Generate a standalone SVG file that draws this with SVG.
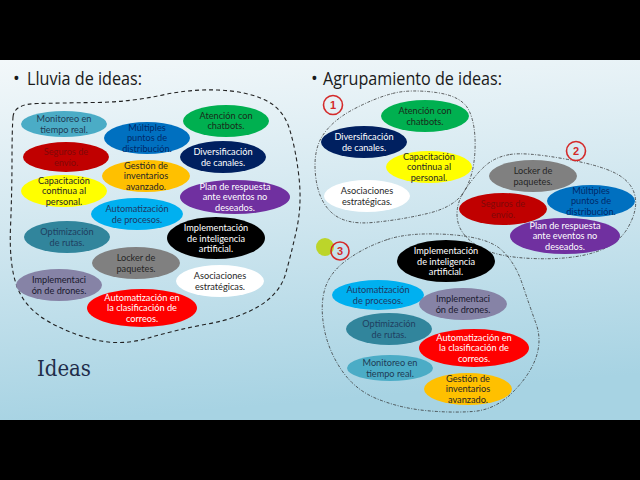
<svg xmlns="http://www.w3.org/2000/svg" width="640" height="480" viewBox="0 0 640 480">
<defs>
<linearGradient id="bg" x1="0" y1="0" x2="0.15" y2="1">
<stop offset="0" stop-color="#f3f8fa"/>
<stop offset="0.5" stop-color="#cfe6ef"/>
<stop offset="1" stop-color="#a7d3e3"/>
</linearGradient>
<style>
.t{font-family:Lato,"Liberation Sans",sans-serif;font-size:9.2px;text-anchor:middle}
.w{fill:#ffffff}
.d{fill:#262626}
.h{font-family:"Open Sans","Liberation Sans",sans-serif;font-size:18px;fill:#1a1a1a}
.dash{fill:none;stroke:#222;stroke-width:1.1;stroke-dasharray:4 3}
.dd{fill:none;stroke:#333;stroke-width:0.8;stroke-dasharray:3 1.5 1 1.5}
.num{fill:none;stroke:#d42a2a;stroke-width:1.6}
.nt{font-family:"Liberation Sans",sans-serif;font-size:11px;font-weight:bold;fill:#d42a2a;text-anchor:middle}
</style>
</defs>
<rect x="0" y="0" width="640" height="480" fill="#000"/>
<rect x="0" y="60" width="640" height="360" fill="url(#bg)"/>

<text x="13" y="85" class="h">•</text>
<text x="27" y="85" class="h" textLength="115" lengthAdjust="spacingAndGlyphs">Lluvia de ideas:</text>
<text x="311" y="85" class="h">•</text>
<text x="323" y="85" class="h" textLength="179" lengthAdjust="spacingAndGlyphs">Agrupamiento de ideas:</text>
<text x="37" y="376" font-family="'DejaVu Serif','Liberation Serif',serif" font-size="22" fill="#1f2d4a" textLength="54" lengthAdjust="spacingAndGlyphs">Ideas</text>

<g id="connectors">
<path class="dash" d="M13,117 Q14,104 37,103.5 Q60,103 95,102.5 Q130,102 160,95.5 Q190,89 217.5,90 Q245,91 264,99.5 Q283,108 289.5,129 Q296,150 299,177.5 Q302,205 296.5,230 Q291,255 285.5,274 Q280,293 260,305.5 Q240,318 207.5,324 Q175,330 148.5,338 Q122,346 96,340 Q70,334 47.5,321 Q25,308 17,286.5 Q9,265 10.5,227.5 Q12,190 12,160 Q12,130 13,117 Z"/>
<path class="dd" d="M392.5,93.5 Q410,89 436,92.5 Q462,96 469,110.5 Q476,125 475,150 Q474,175 464.5,191 Q455,207 427.5,213.5 Q400,220 372.5,222.5 Q345,225 331.5,212.5 Q318,200 315.5,175 Q313,150 323,135 Q333,120 354,109 Q375,98 392.5,93.5 Z"/>
<path class="dd" d="M510,154.5 Q525,152 562.5,158.5 Q600,165 616,173.5 Q632,182 635,196 Q638,210 628,227.5 Q618,245 594,252.5 Q570,260 532.5,258.5 Q495,257 477.5,246 Q460,235 457.5,220 Q455,205 465,190 Q475,175 485,166 Q495,157 510,154.5 Z"/>
<path class="dd" d="M387.5,239.5 Q410,232 448.5,234.5 Q487,237 501,249.5 Q515,262 522.5,284.5 Q530,307 536,323.5 Q542,340 536,357.5 Q530,375 512.5,392.5 Q495,410 472.5,411.5 Q450,413 425,410.5 Q400,408 377.5,399 Q355,390 341.5,370 Q328,350 324,327.5 Q320,305 325,288.5 Q330,272 347.5,259.5 Q365,247 387.5,239.5 Z"/>
</g>

<g id="L-monitoreo"><ellipse cx="64" cy="124" rx="43" ry="13" fill="#4bacc6"/><text class="t" fill="#1f3b55"><tspan x="64" y="122">Monitoreo en</tspan><tspan x="64" y="132.5">tiempo real.</tspan></text></g>
<g id="L-multiples"><ellipse cx="147" cy="138" rx="43" ry="16" fill="#0070c0"/><text class="t" fill="#002a6a"><tspan x="147" y="130.5">Múltiples</tspan><tspan x="147" y="141">puntos de</tspan><tspan x="147" y="151.5">distribución.</tspan></text></g>
<g id="L-atencion"><ellipse cx="226" cy="121" rx="43" ry="16" fill="#00b050"/><text class="t" fill="#1a2a1a"><tspan x="226" y="118.5">Atención con</tspan><tspan x="226" y="129">chatbots.</tspan></text></g>
<g id="L-seguros"><ellipse cx="66" cy="157" rx="43" ry="15" fill="#c00000"/><text class="t" fill="#800808"><tspan x="66" y="155">Seguros de</tspan><tspan x="66" y="165.5">envío.</tspan></text></g>
<g id="L-diversificacion"><ellipse cx="223" cy="157" rx="43" ry="16" fill="#002060"/><text class="t w"><tspan x="223" y="155">Diversificación</tspan><tspan x="223" y="165.5">de canales.</tspan></text></g>
<g id="L-gestion"><ellipse cx="146" cy="176" rx="44" ry="16" fill="#ffc000"/><text class="t d"><tspan x="146" y="168.5">Gestión de</tspan><tspan x="146" y="179">inventarios</tspan><tspan x="146" y="189.5">avanzado.</tspan></text></g>
<g id="L-capacitacion"><ellipse cx="64" cy="191" rx="43" ry="16" fill="#ffff00"/><text class="t d"><tspan x="64" y="183.5">Capacitación</tspan><tspan x="64" y="194">continua al</tspan><tspan x="64" y="204.5">personal.</tspan></text></g>
<g id="L-plan"><ellipse cx="235" cy="197" rx="55" ry="17" fill="#7030a0"/><text class="t w"><tspan x="235" y="189.5">Plan de respuesta</tspan><tspan x="235" y="200">ante eventos no</tspan><tspan x="235" y="210.5">deseados.</tspan></text></g>
<g id="L-automatizacion"><ellipse cx="137" cy="214" rx="46" ry="16" fill="#00b0f0"/><text class="t" fill="#1f3864"><tspan x="137" y="212">Automatización</tspan><tspan x="137" y="222.5">de procesos.</tspan></text></g>
<g id="L-optimizacion"><ellipse cx="67" cy="237" rx="43" ry="16" fill="#31859c"/><text class="t" fill="#1f3f60"><tspan x="67" y="235">Optimización</tspan><tspan x="67" y="245.5">de rutas.</tspan></text></g>
<g id="L-ia"><ellipse cx="216" cy="238" rx="49" ry="21" fill="#000"/><text class="t w"><tspan x="216" y="231">Implementación</tspan><tspan x="216" y="241.5">de inteligencia</tspan><tspan x="216" y="252">artificial.</tspan></text></g>
<g id="L-locker"><ellipse cx="136" cy="263" rx="44" ry="16" fill="#808080"/><text class="t d"><tspan x="136" y="261">Locker de</tspan><tspan x="136" y="271.5">paquetes.</tspan></text></g>
<g id="L-asociaciones"><ellipse cx="220" cy="281" rx="44" ry="16" fill="#ffffff"/><text class="t d"><tspan x="220" y="279">Asociaciones</tspan><tspan x="220" y="289.5">estratégicas.</tspan></text></g>
<g id="L-drones"><ellipse cx="59" cy="285" rx="43" ry="16" fill="#8683a6"/><text class="t" fill="#1a1a2e"><tspan x="59" y="283">Implementaci</tspan><tspan x="59" y="293.5">ón de drones.</tspan></text></g>
<g id="L-correos"><ellipse cx="142" cy="308" rx="55" ry="19" fill="#ff0000"/><text class="t w"><tspan x="142" y="300.5">Automatización en</tspan><tspan x="142" y="311">la clasificación de</tspan><tspan x="142" y="321.5">correos.</tspan></text></g>

<g id="badge1"><circle cx="333" cy="105" r="9.5" class="num"/><text x="333" y="109" class="nt">1</text></g>
<g id="badge2"><circle cx="576" cy="151" r="9.5" class="num"/><text x="576" y="155" class="nt">2</text></g>
<g id="dot"><circle cx="325" cy="247" r="9" fill="#bcd52a"/></g>
<g id="badge3"><circle cx="340" cy="251" r="9" class="num"/><text x="340" y="255" class="nt">3</text></g>

<g id="R-atencion"><ellipse cx="425" cy="116" rx="44" ry="16" fill="#00b050"/><text class="t" fill="#1a2a1a"><tspan x="425" y="114">Atención con</tspan><tspan x="425" y="124.5">chatbots.</tspan></text></g>
<g id="R-diversificacion"><ellipse cx="364" cy="142" rx="43" ry="16" fill="#002060"/><text class="t w"><tspan x="364" y="140">Diversificación</tspan><tspan x="364" y="150.5">de canales.</tspan></text></g>
<g id="R-capacitacion"><ellipse cx="429" cy="167" rx="43" ry="16" fill="#ffff00"/><text class="t d"><tspan x="429" y="159.5">Capacitación</tspan><tspan x="429" y="170">continua al</tspan><tspan x="429" y="180.5">personal.</tspan></text></g>
<g id="R-asociaciones"><ellipse cx="367" cy="196" rx="43" ry="16" fill="#ffffff"/><text class="t d"><tspan x="367" y="194">Asociaciones</tspan><tspan x="367" y="204.5">estratégicas.</tspan></text></g>
<g id="R-locker"><ellipse cx="533" cy="176" rx="44" ry="16" fill="#808080"/><text class="t d"><tspan x="533" y="174">Locker de</tspan><tspan x="533" y="184.5">paquetes.</tspan></text></g>
<g id="R-multiples"><ellipse cx="591" cy="201" rx="44" ry="16" fill="#0070c0"/><text class="t" fill="#002a6a"><tspan x="591" y="193.5">Múltiples</tspan><tspan x="591" y="204">puntos de</tspan><tspan x="591" y="214.5">distribución.</tspan></text></g>
<g id="R-seguros"><ellipse cx="503" cy="209" rx="44" ry="16" fill="#c00000"/><text class="t" fill="#800808"><tspan x="503" y="207">Seguros de</tspan><tspan x="503" y="217.5">envío.</tspan></text></g>
<g id="R-plan"><ellipse cx="565" cy="236" rx="55" ry="18" fill="#7030a0"/><text class="t w"><tspan x="565" y="228.5">Plan de respuesta</tspan><tspan x="565" y="239">ante eventos no</tspan><tspan x="565" y="249.5">deseados.</tspan></text></g>
<g id="R-ia"><ellipse cx="446" cy="261" rx="49" ry="21" fill="#000"/><text class="t w"><tspan x="446" y="254">Implementación</tspan><tspan x="446" y="264.5">de inteligencia</tspan><tspan x="446" y="275">artificial.</tspan></text></g>
<g id="R-automatizacion"><ellipse cx="378" cy="295" rx="46" ry="15" fill="#00b0f0"/><text class="t" fill="#1f3864"><tspan x="378" y="293">Automatización</tspan><tspan x="378" y="303.5">de procesos.</tspan></text></g>
<g id="R-drones"><ellipse cx="463" cy="304" rx="44" ry="16" fill="#8683a6"/><text class="t" fill="#1a1a2e"><tspan x="463" y="302">Implementaci</tspan><tspan x="463" y="312.5">ón de drones.</tspan></text></g>
<g id="R-optimizacion"><ellipse cx="389" cy="329" rx="43" ry="16" fill="#31859c"/><text class="t" fill="#1f3f60"><tspan x="389" y="327">Optimización</tspan><tspan x="389" y="337.5">de rutas.</tspan></text></g>
<g id="R-correos"><ellipse cx="474" cy="348" rx="55" ry="19" fill="#ff0000"/><text class="t w"><tspan x="474" y="340.5">Automatización en</tspan><tspan x="474" y="351">la clasificación de</tspan><tspan x="474" y="361.5">correos.</tspan></text></g>
<g id="R-monitoreo"><ellipse cx="390" cy="368" rx="43" ry="13" fill="#4bacc6"/><text class="t" fill="#1f3b55"><tspan x="390" y="366">Monitoreo en</tspan><tspan x="390" y="376.5">tiempo real.</tspan></text></g>
<g id="R-gestion"><ellipse cx="468" cy="389" rx="44" ry="16" fill="#ffc000"/><text class="t d"><tspan x="468" y="381.5">Gestión de</tspan><tspan x="468" y="392">inventarios</tspan><tspan x="468" y="402.5">avanzado.</tspan></text></g>
</svg>
